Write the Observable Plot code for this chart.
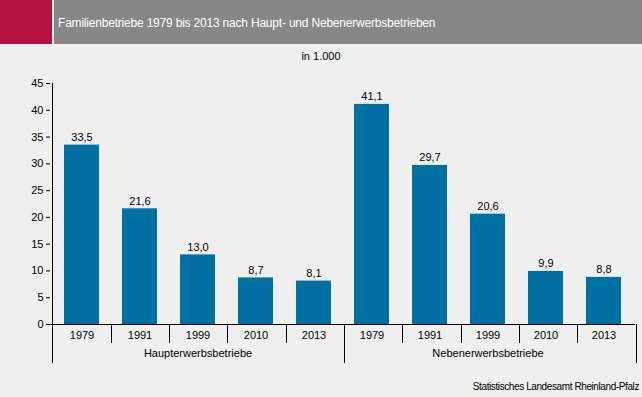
<!DOCTYPE html>
<html><head><meta charset="utf-8">
<script src="https://cdn.jsdelivr.net/npm/d3@7"></script>
<script src="https://cdn.jsdelivr.net/npm/@observablehq/plot@0.6"></script>
<style>
html,body{margin:0;padding:0;background:#eeefee;}
#wrap{position:relative;width:642px;height:397px;overflow:hidden;font-family:"Liberation Sans",Arial,sans-serif;background:#eeefee;}
#red{position:absolute;left:0;top:0;width:52px;height:44px;background:#b5133f;}
#band{position:absolute;left:54px;top:0;width:588px;height:44px;background:#878787;}
#title{position:absolute;left:58px;top:16px;color:#fff;font-size:12px;white-space:nowrap;letter-spacing:-0.2px;}
#sub{position:absolute;left:0;width:642px;top:50px;text-align:center;font-size:11px;color:#000;}
#foot{position:absolute;right:3px;top:381px;font-size:10px;color:#000;letter-spacing:-0.4px;}
#chart{position:absolute;left:0;top:0;}
</style></head>
<body><div id="wrap">
<div id="red"></div><div id="band"></div>
<div id="title">Familienbetriebe 1979 bis 2013 nach Haupt- und Nebenerwerbsbetrieben</div>
<div id="sub">in 1.000</div>
<div id="chart"></div>
<div id="foot">Statistisches Landesamt Rheinland-Pfalz</div>
</div>
<script>
const years = ["1979","1991","1999","2010","2013"];
const groups = ["Haupterwerbsbetriebe","Nebenerwerbsbetriebe"];
const haupt = [33.5, 21.6, 13.0, 8.7, 8.1];
const neben = [41.1, 29.7, 20.6, 9.9, 8.8];
const yTicks = [0,5,10,15,20,25,30,35,40,45];

const rows = [];
groups.forEach((g, gi) => {
  const vals = gi === 0 ? haupt : neben;
  years.forEach((yr, i) => rows.push({key: g + "|" + yr, group: g, year: yr, value: vals[i]}));
});
const keys = rows.map(d => d.key);
const groupRows = groups.map(g => ({group: g, mid: g + "|" + years[2]}));
const fmt = v => v.toFixed(1).replace(".", ",");

const plot = Plot.plot({
  width: 642, height: 397,
  marginTop: 83, marginBottom: 73, marginLeft: 50, marginRight: 7,
  style: {background: "transparent", fontFamily: "Liberation Sans, Arial, sans-serif", fontSize: "11px", color: "#000"},
  x: {type: "band", domain: keys, paddingInner: 0.4, paddingOuter: 0.2},
  y: {domain: [0, 45]},
  marks: [
    Plot.barY(rows, {x: "key", y: "value", fill: "#0070a2"}),
    Plot.text(rows, {x: "key", y: "value", text: d => fmt(d.value), lineAnchor: "bottom", dy: -4, fontSize: 11, fill: "#000"}),
    Plot.ruleY([0], {stroke: "#000"}),
    Plot.axisY({ticks: yTicks, tickSize: 4, tickPadding: 3, label: null, fontSize: 11}),
    Plot.axisX({tickSize: 0, tickPadding: 7, tickFormat: k => k.split("|")[1], label: null, fontSize: 11}),
    Plot.text(groupRows, {x: "mid", text: "group", frameAnchor: "bottom", dy: 32, fontSize: 11, letterSpacing: "0.2px"})
  ]
});
document.getElementById("chart").appendChild(plot);

// axis line and category separators from the plot's own scales
const xs = plot.scale("x"), ys = plot.scale("y");
const svg = d3.select(plot);
const y0 = ys.apply(0), yTop = ys.apply(45);
const step = xs.bandwidth / (1 - 0.4);
const left = xs.apply(keys[0]) - step * 0.2;
const lx = Math.round(left) + 0.5;
svg.append("line").attr("x1", lx).attr("x2", lx).attr("y1", yTop).attr("y2", y0).attr("stroke", "#000");
for (let i = 0; i <= keys.length; i++) {
  const x = Math.round(left + i * step) + 0.5;
  const long = i % years.length === 0;
  svg.append("line").attr("x1", x).attr("x2", x).attr("y1", y0).attr("y2", y0 + (long ? 39 : 19)).attr("stroke", "#000");
}
</script>
</body></html>
